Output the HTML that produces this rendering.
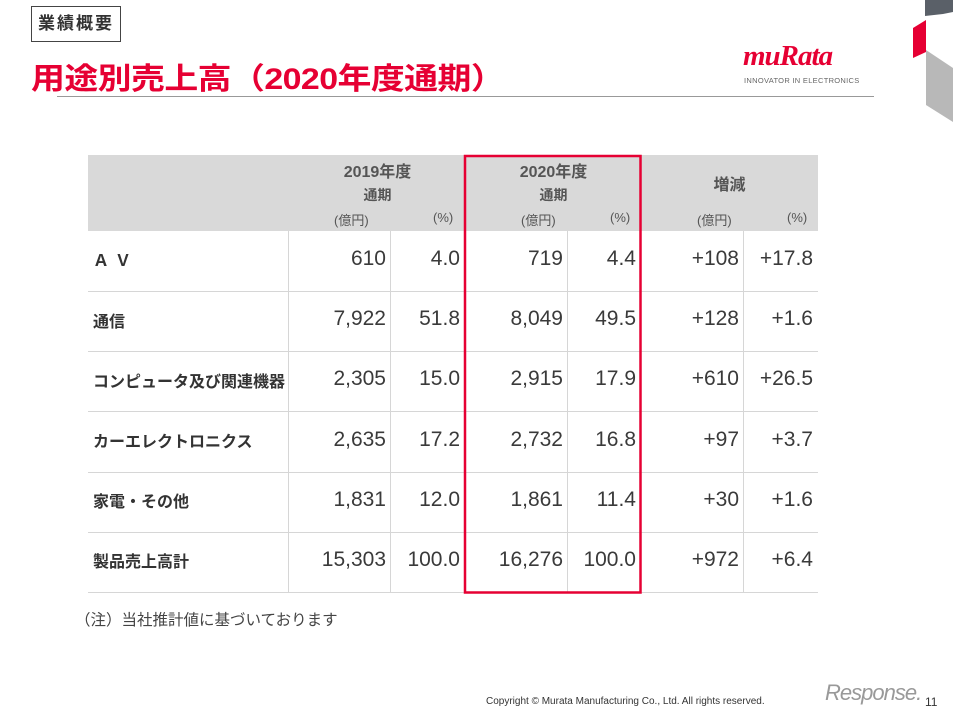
<!DOCTYPE html>
<html><head><meta charset="utf-8"><style>
body{margin:0;width:953px;height:715px;background:#fff;position:relative;overflow:hidden;font-family:"Liberation Sans","Noto Sans CJK JP",sans-serif;color:#333}
.a{position:absolute}
.v{position:absolute;font-size:21px;text-align:right;color:#3a3a3a}
.l{position:absolute;left:93px;font-size:16px;font-weight:bold;color:#333}
.h{position:absolute;font-size:16px;font-weight:bold;color:#555;text-align:center}
.u{position:absolute;font-size:13px;color:#555}
</style></head><body>
<div class="a" style="left:31px;top:6px;width:90px;height:36px;border:1px solid #444;box-sizing:border-box;font-size:17px;font-weight:bold;text-align:center;line-height:34px;letter-spacing:2px;color:#333">業績概要</div>
<div class="a" style="left:31px;top:54px;font-size:30px;font-weight:bold;color:#e60033;letter-spacing:-0.5px;transform:scaleX(1.13);transform-origin:0 0;white-space:nowrap">用途別売上高（2020年度通期）</div>
<div class="a" style="left:57px;top:96px;width:817px;height:1px;background:#999"></div>
<div class="a" style="left:743px;top:40px;font-size:29px;font-weight:bold;font-style:italic;color:#e60033;font-family:'Liberation Serif',serif;letter-spacing:-1px">muRata</div>
<div class="a" style="left:744px;top:76px;font-size:7.5px;color:#666;letter-spacing:0.3px">INNOVATOR IN ELECTRONICS</div>
<svg class="a" style="left:895px;top:0" width="58" height="125"><polygon points="30,0 58,0 58,12 48,14 30,16" fill="#5a6068"/><polygon points="18,28 31,20 31,52 18,58" fill="#e60033"/><polygon points="31,50 58,68 58,122 31,105" fill="#b8b8b8"/></svg>
<div class="a" style="left:88px;top:155px;width:730px;height:76px;background:#d9d9d9"></div>
<div class="h" style="left:290px;top:158px;width:175px">2019年度</div>
<div class="h" style="left:290px;top:185px;width:175px;font-size:14px">通期</div>
<div class="h" style="left:466px;top:158px;width:175px">2020年度</div>
<div class="h" style="left:466px;top:185px;width:175px;font-size:14px">通期</div>
<div class="h" style="left:641px;top:171px;width:177px">増減</div>
<div class="u" style="left:334px;top:210px">(億円)</div><div class="u" style="left:433px;top:210px">(%)</div>
<div class="u" style="left:521px;top:210px">(億円)</div><div class="u" style="left:610px;top:210px">(%)</div>
<div class="u" style="left:697px;top:210px">(億円)</div><div class="u" style="left:787px;top:210px">(%)</div>
<svg class="a" style="left:0;top:0" width="953" height="715">
<g stroke="#d6d6d6" stroke-width="1">
<line x1="88" y1="291.5" x2="818" y2="291.5"/><line x1="88" y1="351.5" x2="818" y2="351.5"/><line x1="88" y1="411.5" x2="818" y2="411.5"/><line x1="88" y1="472.5" x2="818" y2="472.5"/><line x1="88" y1="532.5" x2="818" y2="532.5"/><line x1="88" y1="592.5" x2="818" y2="592.5"/>
<line x1="288.5" y1="231" x2="288.5" y2="593"/><line x1="390.5" y1="231" x2="390.5" y2="593"/><line x1="567.5" y1="231" x2="567.5" y2="593"/><line x1="743.5" y1="231" x2="743.5" y2="593"/>
</g>
<rect x="465" y="156" width="175.5" height="436.5" fill="none" stroke="#e60033" stroke-width="2.5"/>
</svg>
<div class="l" style="top:247px;letter-spacing:6px">ＡＶ</div>
<div class="l" style="top:308px">通信</div>
<div class="l" style="top:368px">コンピュータ及び関連機器</div>
<div class="l" style="top:428px">カーエレクトロニクス</div>
<div class="l" style="top:488px">家電・その他</div>
<div class="l" style="top:548px">製品売上高計</div>
<div id="rows"></div>
<script>
var d=[["610","4.0","719","4.4","+108","+17.8"],["7,922","51.8","8,049","49.5","+128","+1.6"],["2,305","15.0","2,915","17.9","+610","+26.5"],["2,635","17.2","2,732","16.8","+97","+3.7"],["1,831","12.0","1,861","11.4","+30","+1.6"],["15,303","100.0","16,276","100.0","+972","+6.4"]];
var r=[386,460,563,636,739,813],h="";
d.forEach(function(row,i){row.forEach(function(t,j){h+='<div class="v" style="right:'+(953-r[j])+'px;top:'+(247+i*60.2)+'px">'+t+'</div>';});});
document.getElementById("rows").innerHTML=h;
</script>
<div class="a" style="left:75px;top:608px;font-size:15.5px;color:#444">（注）当社推計値に基づいております</div>
<div class="a" style="left:486px;top:696px;font-size:10px;color:#333">Copyright © Murata Manufacturing Co., Ltd. All rights reserved.</div>
<div class="a" style="left:825px;top:680px;font-size:22px;color:#999;font-style:italic;letter-spacing:-1px">Response.</div>
<div class="a" style="left:925px;top:695px;font-size:12px;color:#333">11</div>
</body></html>
